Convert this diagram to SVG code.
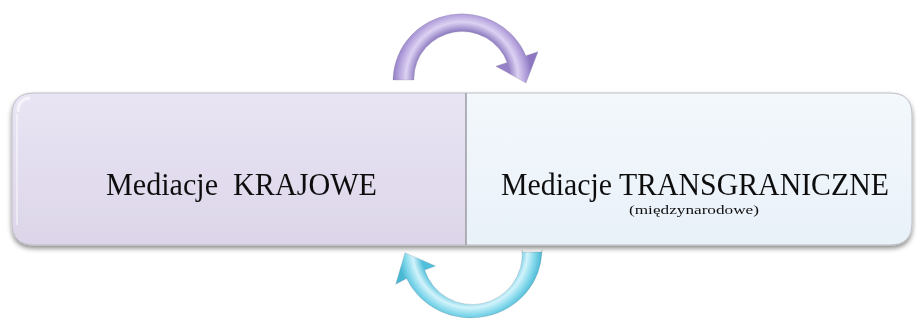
<svg xmlns="http://www.w3.org/2000/svg" width="916" height="322" viewBox="0 0 916 322">
<defs>
<linearGradient id="gL" x1="0" y1="0" x2="0" y2="1">
<stop offset="0" stop-color="#e9e5f4"/><stop offset="1" stop-color="#dcd5e9"/>
</linearGradient>
<linearGradient id="gR" x1="0" y1="0" x2="0" y2="1">
<stop offset="0" stop-color="#f3f8fc"/><stop offset="1" stop-color="#e9f1f9"/>
</linearGradient>
<radialGradient id="gTop" gradientUnits="userSpaceOnUse" cx="462" cy="78" r="70">
<stop offset="0.68" stop-color="#9582c6"/><stop offset="0.8" stop-color="#dcd2f2"/><stop offset="0.9" stop-color="#b6a4de"/><stop offset="1" stop-color="#8c77c0"/>
</radialGradient>
<radialGradient id="gBot" gradientUnits="userSpaceOnUse" cx="470" cy="250" r="72">
<stop offset="0.68" stop-color="#4fbfdb"/><stop offset="0.8" stop-color="#d2f3fb"/><stop offset="0.9" stop-color="#86d9ec"/><stop offset="1" stop-color="#49b8d4"/>
</radialGradient>
<filter id="sh" x="-5%" y="-10%" width="110%" height="130%">
<feGaussianBlur in="SourceAlpha" stdDeviation="2.5"/>
<feOffset dy="3" result="b"/>
<feComponentTransfer><feFuncA type="linear" slope="0.45"/></feComponentTransfer>
<feMerge><feMergeNode/><feMergeNode in="SourceGraphic"/></feMerge>
</filter>
</defs>
<style>
.bx{stroke:#bdbdc4;stroke-width:1}
.t{font-family:"Liberation Serif","DejaVu Serif",serif;fill:#111}
.ar{stroke:#8a8a9a;stroke-width:0.5;stroke-opacity:0.5}
</style>
<g id="connectors">
<path class="ar" fill="url(#gTop)" d="M393 80 L393 78 A69 67 0 0 1 525.9 55.7 L538 51.7 L526 83 L495.8 66.2 L507.1 62.4 A48 47 0 0 0 414 78 L414 80 Z"/>
<path class="ar" fill="url(#gBot)" d="M542 252 L542 250 A71 68 0 0 1 406.6 278.6 L395.7 284.2 L405 252.7 L435.5 266.1 L424.7 270.1 A50 50 0 0 0 522 250 L522 252 Z"/>
</g>
<g id="frame" filter="url(#sh)">
<g id="node-krajowe">
<path class="bx" fill="url(#gL)" d="M466 93 L34 93 Q12 93 12 115 L12 223 Q12 245 34 245 L466 245 Z"/>
<path d="M18 112 Q18 99 30 98" fill="none" stroke="#fff" stroke-width="3" stroke-opacity="0.6"/>
<path d="M17 114 L17 225" fill="none" stroke="#fff" stroke-width="2" stroke-opacity="0.45"/>
<text class="t" x="241.5" y="195" font-size="31" text-anchor="middle" textLength="271" lengthAdjust="spacingAndGlyphs" xml:space="preserve">Mediacje  KRAJOWE</text>
</g>
<g id="node-transgraniczne">
<path class="bx" fill="url(#gR)" d="M466 93 L890 93 Q912 93 912 115 L912 223 Q912 245 890 245 L466 245 Z"/>
<text class="t" x="695" y="195" font-size="31" text-anchor="middle" textLength="388" lengthAdjust="spacingAndGlyphs">Mediacje TRANSGRANICZNE</text>
<text class="t" x="694" y="214" font-size="13" text-anchor="middle" textLength="130" lengthAdjust="spacingAndGlyphs">(międzynarodowe)</text>
</g>
</g>
<line x1="466" y1="93" x2="466" y2="245" stroke="#9a9aa2" stroke-width="1.2"/>
</svg>
